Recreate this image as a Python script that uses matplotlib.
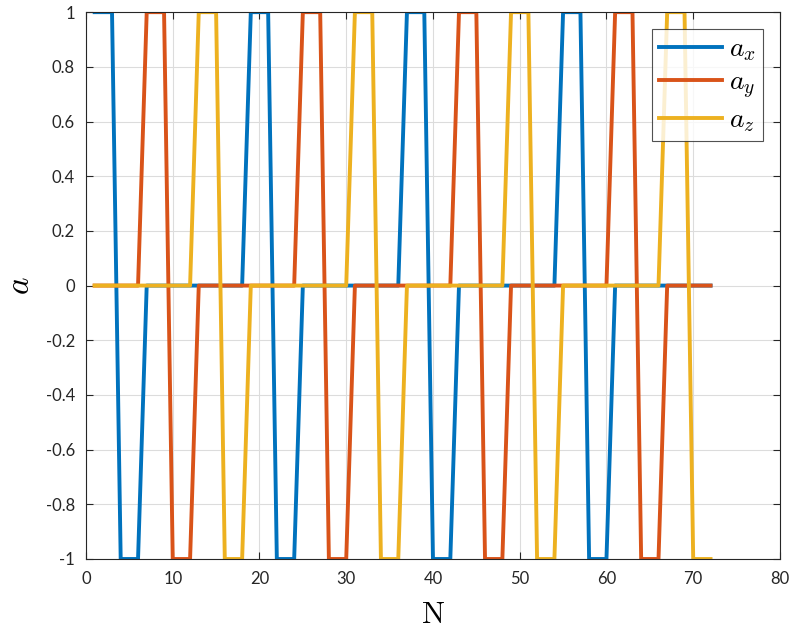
import numpy as np
import matplotlib
matplotlib.use("Agg")
import matplotlib.pyplot as plt

plt.rcParams['mathtext.fontset'] = 'cm'
plt.rcParams['axes.unicode_minus'] = False
plt.rcParams['font.family'] = ['Lato', 'DejaVu Sans']

# step index
N = list(range(1, 73))

# components of a for each step
a_x = [1, 1, 1, -1, -1, -1, 0, 0, 0, 0, 0, 0, 0, 0, 0, 0, 0, 0,
       1, 1, 1, -1, -1, -1, 0, 0, 0, 0, 0, 0, 0, 0, 0, 0, 0, 0,
       1, 1, 1, -1, -1, -1, 0, 0, 0, 0, 0, 0, 0, 0, 0, 0, 0, 0,
       1, 1, 1, -1, -1, -1, 0, 0, 0, 0, 0, 0, 0, 0, 0, 0, 0, 0]
a_y = [0, 0, 0, 0, 0, 0, 1, 1, 1, -1, -1, -1, 0, 0, 0, 0, 0, 0,
       0, 0, 0, 0, 0, 0, 1, 1, 1, -1, -1, -1, 0, 0, 0, 0, 0, 0,
       0, 0, 0, 0, 0, 0, 1, 1, 1, -1, -1, -1, 0, 0, 0, 0, 0, 0,
       0, 0, 0, 0, 0, 0, 1, 1, 1, -1, -1, -1, 0, 0, 0, 0, 0, 0]
a_z = [0, 0, 0, 0, 0, 0, 0, 0, 0, 0, 0, 0, 1, 1, 1, -1, -1, -1,
       0, 0, 0, 0, 0, 0, 0, 0, 0, 0, 0, 0, 1, 1, 1, -1, -1, -1,
       0, 0, 0, 0, 0, 0, 0, 0, 0, 0, 0, 0, 1, 1, 1, -1, -1, -1,
       0, 0, 0, 0, 0, 0, 0, 0, 0, 0, 0, 0, 1, 1, 1, -1, -1, -1]

series_labels = [r'$a_x$', r'$a_y$', r'$a_z$']
colors = ['#0072BD', '#D95319', '#EDB120']

xticks = [0, 10, 20, 30, 40, 50, 60, 70, 80]
yticks = [1, 0.8, 0.6, 0.4, 0.2, 0, -0.2, -0.4, -0.6, -0.8, -1]
ytick_labels = ['1', '0.8', '0.6', '0.4', '0.2', '0', '-0.2', '-0.4', '-0.6', '-0.8', '-1']

fig = plt.figure(figsize=(7.94, 6.3), dpi=100)
ax = fig.add_axes([0.1083, 0.1127, 0.874, 0.868])

for vals, lab, c in zip([a_x, a_y, a_z], series_labels, colors):
    ax.plot(N, vals, color=c, linewidth=2.8, label=lab)

ax.set_xlim(0, 80)
ax.set_ylim(-1, 1)
ax.set_xticks(xticks)
ax.set_yticks(yticks)
ax.set_yticklabels(ytick_labels)

ax.grid(True, color='#dcdcdc', linewidth=0.8)
ax.set_axisbelow(True)
ax.tick_params(direction='in', top=True, right=True, length=5, width=0.8,
               colors='#262626', labelsize=12)
ax.tick_params(axis='x', pad=9)
ax.tick_params(axis='y', pad=8)
for s in ax.spines.values():
    s.set_color('#262626')
    s.set_linewidth(0.8)

ax.set_xlabel(r'$\mathrm{N}$', fontsize=22, labelpad=9)
ax.set_ylabel(r'$a$', fontsize=24, labelpad=8)

# boxed legend in the top right corner
leg = ax.legend(loc='upper right', fontsize=20, handlelength=2.3,
                borderaxespad=0.6, fancybox=False, labelspacing=0.2,
                handletextpad=0.25, borderpad=0.25)
leg.get_frame().set_edgecolor('#262626')
leg.get_frame().set_linewidth(0.8)

fig.savefig('out.png', dpi=100)
